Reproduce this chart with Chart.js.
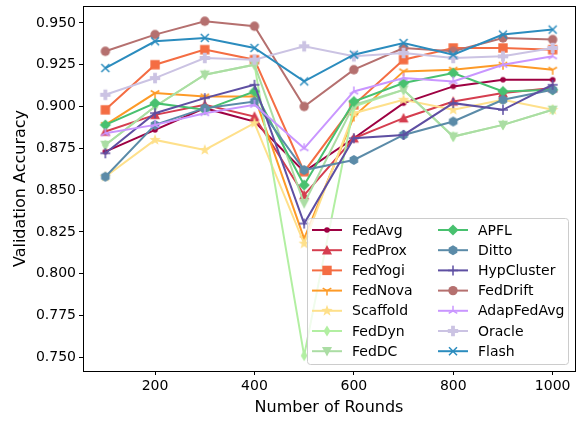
<!DOCTYPE html>
<html>
<head>
<meta charset="utf-8">
<script src="https://cdn.jsdelivr.net/npm/chart.js@4.4.0/dist/chart.umd.min.js"></script>
<style>
  html, body { margin: 0; padding: 0; background: #fff; }
</style>
</head>
<body>
<canvas id="grafico" width="577" height="422"></canvas>
<script>
// Datos
const rounds = [100, 200, 300, 400, 500, 600, 700, 800, 900, 1000];
const xTicks = [200, 400, 600, 800, 1000];
const yTicks = [0.750, 0.775, 0.800, 0.825, 0.850, 0.875, 0.900, 0.925, 0.950];

const methods = ["FedAvg", "FedProx", "FedYogi", "FedNova", "Scaffold", "FedDyn", "FedDC",
                 "APFL", "Ditto", "HypCluster", "FedDrift", "AdapFedAvg", "Oracle", "Flash"];

const fedAvg     = [0.873, 0.886, 0.899, 0.891, 0.861, 0.881, 0.902, 0.912, 0.916, 0.916];
const fedProx    = [0.885, 0.895, 0.901, 0.894, 0.847, 0.881, 0.893, 0.903, 0.908, 0.911];
const fedYogi    = [0.898, 0.925, 0.934, 0.928, 0.861, 0.901, 0.928, 0.935, 0.935, 0.934];
const fedNova    = [0.889, 0.908, 0.906, 0.906, 0.821, 0.894, 0.921, 0.922, 0.925, 0.922];
const scaffold   = [0.858, 0.880, 0.874, 0.890, 0.818, 0.896, 0.904, 0.898, 0.904, 0.898];
const fedDyn     = [0.877, 0.900, 0.919, 0.925, 0.751, 0.900, 0.910, 0.882, 0.889, 0.898];
const fedDC      = [0.877, 0.900, 0.919, 0.925, 0.842, 0.901, 0.910, 0.882, 0.889, 0.898];
const apfl       = [0.889, 0.902, 0.898, 0.909, 0.853, 0.903, 0.914, 0.920, 0.909, 0.910];
const ditto      = [0.858, 0.889, 0.899, 0.903, 0.862, 0.868, 0.883, 0.891, 0.904, 0.910];
const hypCluster = [0.872, 0.896, 0.905, 0.913, 0.830, 0.881, 0.883, 0.902, 0.898, 0.913];
const fedDrift   = [0.933, 0.943, 0.951, 0.948, 0.900, 0.922, 0.935, 0.933, 0.941, 0.940];
const adapFedAvg = [0.884, 0.889, 0.896, 0.901, 0.875, 0.909, 0.917, 0.915, 0.925, 0.930];
const oracle     = [0.907, 0.917, 0.929, 0.928, 0.936, 0.930, 0.932, 0.929, 0.930, 0.935];
const flash      = [0.923, 0.939, 0.941, 0.935, 0.915, 0.931, 0.938, 0.931, 0.943, 0.946];

const series = [fedAvg, fedProx, fedYogi, fedNova, scaffold, fedDyn, fedDC,
                apfl, ditto, hypCluster, fedDrift, adapFedAvg, oracle, flash];

const colors = ["#9e0142", "#d53e4f", "#f46d43", "#fd9a27", "#fee08b", "#b2efa2", "#abdda4",
                "#48c16f", "#5b8ba8", "#5e4fa2", "#b5706f", "#c996ff", "#cbc3e3", "#2b8cbe"];
const markers = [".", "^", "s", "1", "*", "d", "v", "D", "h", "+", "o", "2", "P", "x"];

const FONT = "'DejaVu Sans', sans-serif";

// dibuja un marcador estilo matplotlib
function drawMarker(ctx, m, x, y, color) {
  const r = 4.7;
  ctx.save();
  ctx.fillStyle = color;
  ctx.strokeStyle = color;
  ctx.lineWidth = 1.5;
  ctx.beginPath();
  switch (m) {
    case ".": ctx.arc(x, y, 2.8, 0, 2 * Math.PI); ctx.fill(); break;
    case "o": ctx.arc(x, y, r, 0, 2 * Math.PI); ctx.fill(); break;
    case "^":
      ctx.moveTo(x, y - r - 0.5); ctx.lineTo(x - r - 0.3, y + r - 0.5); ctx.lineTo(x + r + 0.3, y + r - 0.5);
      ctx.closePath(); ctx.fill(); break;
    case "v":
      ctx.moveTo(x, y + r + 0.5); ctx.lineTo(x - r - 0.3, y - r + 0.5); ctx.lineTo(x + r + 0.3, y - r + 0.5);
      ctx.closePath(); ctx.fill(); break;
    case "s": ctx.rect(x - r, y - r, 2 * r, 2 * r); ctx.fill(); break;
    case "D":
      ctx.moveTo(x, y - 5.6); ctx.lineTo(x + 5.6, y); ctx.lineTo(x, y + 5.6); ctx.lineTo(x - 5.6, y);
      ctx.closePath(); ctx.fill(); break;
    case "d":
      ctx.moveTo(x, y - 5.6); ctx.lineTo(x + 3.4, y); ctx.lineTo(x, y + 5.6); ctx.lineTo(x - 3.4, y);
      ctx.closePath(); ctx.fill(); break;
    case "h":
      for (let k = 0; k < 6; k++) {
        const a = -Math.PI / 2 + k * Math.PI / 3;
        const px = x + 5 * Math.cos(a), py = y + 5 * Math.sin(a);
        if (k === 0) ctx.moveTo(px, py); else ctx.lineTo(px, py);
      }
      ctx.closePath(); ctx.fill(); break;
    case "*":
      for (let k = 0; k < 10; k++) {
        const a = -Math.PI / 2 + k * Math.PI / 5;
        const rr = k % 2 === 0 ? 6 : 2.4;
        const px = x + rr * Math.cos(a), py = y + rr * Math.sin(a);
        if (k === 0) ctx.moveTo(px, py); else ctx.lineTo(px, py);
      }
      ctx.closePath(); ctx.fill(); break;
    case "+":
      ctx.moveTo(x - 5, y); ctx.lineTo(x + 5, y); ctx.moveTo(x, y - 5); ctx.lineTo(x, y + 5);
      ctx.stroke(); break;
    case "x":
      ctx.moveTo(x - 4, y - 4); ctx.lineTo(x + 4, y + 4); ctx.moveTo(x - 4, y + 4); ctx.lineTo(x + 4, y - 4);
      ctx.stroke(); break;
    case "1":
      ctx.moveTo(x, y); ctx.lineTo(x, y + 5);
      ctx.moveTo(x, y); ctx.lineTo(x - 4.3, y - 2.5);
      ctx.moveTo(x, y); ctx.lineTo(x + 4.3, y - 2.5);
      ctx.stroke(); break;
    case "2":
      ctx.moveTo(x, y); ctx.lineTo(x, y - 5);
      ctx.moveTo(x, y); ctx.lineTo(x - 4.3, y + 2.5);
      ctx.moveTo(x, y); ctx.lineTo(x + 4.3, y + 2.5);
      ctx.stroke(); break;
    case "P": {
      const a = 5.2, b = 1.9;
      ctx.moveTo(x - b, y - a); ctx.lineTo(x + b, y - a); ctx.lineTo(x + b, y - b); ctx.lineTo(x + a, y - b);
      ctx.lineTo(x + a, y + b); ctx.lineTo(x + b, y + b); ctx.lineTo(x + b, y + a); ctx.lineTo(x - b, y + a);
      ctx.lineTo(x - b, y + b); ctx.lineTo(x - a, y + b); ctx.lineTo(x - a, y - b); ctx.lineTo(x - b, y - b);
      ctx.closePath(); ctx.fill(); break;
    }
  }
  ctx.restore();
}

function markerCanvas(m, color) {
  const c = document.createElement("canvas");
  c.width = 16; c.height = 16;
  drawMarker(c.getContext("2d"), m, 8, 8, color);
  return c;
}

const datasets = methods.map((name, i) => ({
  label: name,
  data: rounds.map((r, j) => ({ x: r, y: series[i][j] })),
  borderColor: colors[i],
  backgroundColor: colors[i],
  borderWidth: 2,
  pointStyle: markerCanvas(markers[i], colors[i]),
  pointRadius: 5,
  pointHoverRadius: 5,
  tension: 0,
  order: -i
}));

// marco superior y derecho + leyenda dentro del area
const framePlugin = {
  id: "frame",
  afterDraw(chart) {
    const ctx = chart.ctx;
    const a = chart.chartArea;
    ctx.save();
    ctx.strokeStyle = "#000";
    ctx.lineWidth = 1;
    ctx.strokeRect(Math.round(a.left) + 0.5, Math.round(a.top) + 0.5,
                   Math.round(a.right - a.left), Math.round(a.bottom - a.top));

    // leyenda
    const bx = 307, by = 218, bw = 261, bh = 146;
    ctx.fillStyle = "rgba(255,255,255,0.8)";
    ctx.strokeStyle = "#cccccc";
    ctx.beginPath();
    ctx.roundRect(bx + 0.5, by + 0.5, bw, bh, 3);
    ctx.fill();
    ctx.stroke();
    ctx.font = "14px " + FONT;
    ctx.textBaseline = "middle";
    ctx.textAlign = "left";
    methods.forEach((name, i) => {
      const col = i < 7 ? 0 : 1;
      const row = i % 7;
      const x0 = col === 0 ? 312 : 438;
      const y0 = 230 + row * 20.2;
      ctx.strokeStyle = colors[i];
      ctx.lineWidth = 2;
      ctx.beginPath();
      ctx.moveTo(x0, y0);
      ctx.lineTo(x0 + 30, y0);
      ctx.stroke();
      drawMarker(ctx, markers[i], x0 + 15, y0, colors[i]);
      ctx.fillStyle = "#000";
      ctx.fillText(name, x0 + 40, y0 + 1);
    });
    ctx.restore();
  }
};

new Chart(document.getElementById("grafico"), {
  type: "line",
  data: { datasets: datasets },
  options: {
    responsive: false,
    animation: false,
    devicePixelRatio: 1,
    layout: { autoPadding: false, padding: { top: 6, right: 2, left: 0, bottom: 0 } },
    plugins: {
      legend: { display: false },
      tooltip: { enabled: false }
    },
    scales: {
      x: {
        type: "linear",
        min: 55,
        max: 1045,
        afterBuildTicks: s => { s.ticks = xTicks.map(v => ({ value: v })); },
        afterFit: s => { s.height = 51; s.paddingLeft = 0; s.paddingRight = 0; },
        grid: { display: true, drawOnChartArea: false, drawTicks: true, tickLength: 4, color: "#000" },
        border: { display: true, color: "#000", width: 1 },
        ticks: { color: "#000", padding: 3, font: { family: FONT, size: 14 }, maxRotation: 0,
                 callback: v => String(v) },
        title: { display: true, text: "Number of Rounds", color: "#000",
                 font: { family: FONT, size: 16 }, padding: { top: 0, bottom: 5 } }
      },
      y: {
        min: 0.7418,
        max: 0.9601,
        afterBuildTicks: s => { s.ticks = yTicks.map(v => ({ value: v })); },
        afterFit: s => { s.width = 83; s.paddingTop = 0; s.paddingBottom = 0; },
        grid: { display: true, drawOnChartArea: false, drawTicks: true, tickLength: 4, color: "#000" },
        border: { display: true, color: "#000", width: 1 },
        ticks: { color: "#000", padding: 3, font: { family: FONT, size: 14 },
                 callback: v => v.toFixed(3) },
        title: { display: true, text: "Validation Accuracy", color: "#000",
                 font: { family: FONT, size: 16 }, padding: { top: 11, bottom: 0 } }
      }
    }
  },
  plugins: [framePlugin]
});
</script>
</body>
</html>
